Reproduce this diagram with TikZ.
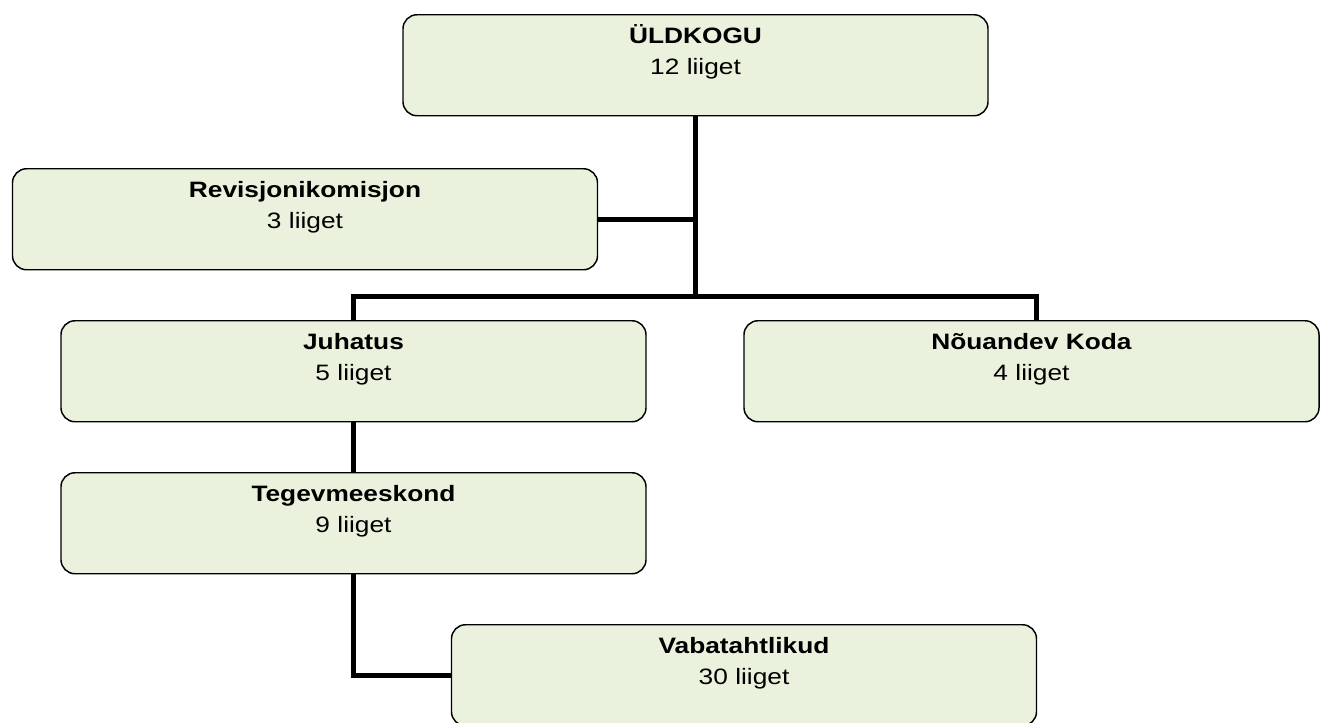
\documentclass[tikz,border=0pt]{standalone}
\usepackage{fontspec}
\setmainfont{Liberation Sans}[FakeStretch=1.18]
\usepackage{tikz}
\usetikzlibrary{positioning,
                calc,
            backgrounds}
\definecolor[named]{orggreen}{rgb}{0.918,0.945,0.867}
\definecolor[named]{orgblack}{rgb}{0,0,0}

\begin{document}
\begin{tikzpicture}
       [x=0.75pt,y=-0.75pt,
        organ/.style={fill=orggreen,shape=rectangle,draw=orgblack,
                      line width=1.1pt,
                      text width=438.75pt,inner xsep=0pt,inner ysep=0pt,
                      text height=21.75pt,text depth=54pt,
                      align=center,anchor=north,
                      font=\fontsize{16.7pt}{22.95pt}\selectfont,
                      rounded corners=10.5pt},
        link/.style={draw=orgblack,line width=3.75pt}]
       \useasboundingbox (0,0) rectangle (1320,722);
       \node [organ] (uld) at (695.5,14)  {\textbf{ÜLDKOGU}\\12 liiget};
       \node [organ] (rev) at (305,168)   {\textbf{Revisjonikomisjon}\\3 liiget};
       \node [organ] (juh) at (353.5,320) {\textbf{Juhatus}\\5 liiget};
       \node [organ,text width=431.25pt] (nou) at (1031.5,320) {\textbf{Nõuandev Koda}\\4 liiget};
       \node [organ] (teg) at (353.5,472) {\textbf{Tegevmeeskond}\\9 liiget};
       \node [organ] (vab) at (744,624)   {\textbf{Vabatahtlikud}\\30 liiget};
       \coordinate (bar) at (0,296);
       \begin{scope}[on background layer]
        \draw [link] (uld.south) -- (uld.south |- bar);
        \draw [link] (rev.east) -- (rev.east -| uld.south);
        \draw [link] (juh.north) |- (uld.south |- bar) -| ([xshift=4pt]nou.north);
        \draw [link] (juh.south) -- (teg.north);
        \draw [link] (teg.south) |- (vab.west);
       \end{scope}
    \end{tikzpicture}
\end{document}
